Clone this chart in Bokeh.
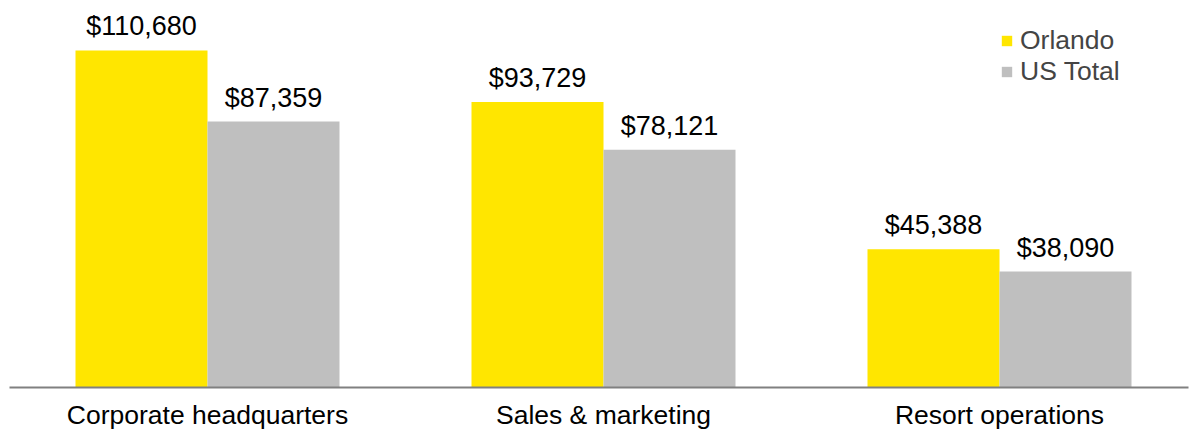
import numpy as np
from bokeh.plotting import figure
from bokeh.models import ColumnDataSource, Range1d, FixedTicker, Legend, LegendItem
from bokeh.core.properties import value
from bokeh.embed import file_html
from bokeh.resources import INLINE

categories = ["Corporate headquarters", "Sales & marketing", "Resort operations"]
orlando = [110680, 93729, 45388]
us_total = [87359, 78121, 38090]
series_names = ["Orlando", "US Total"]

FONT = "Liberation Sans"
YELLOW = "#FFE600"
GRAY = "#BFBFBF"

xc = np.arange(len(categories)) + 0.5
src = ColumnDataSource(dict(
    x_o=xc - 1/6, x_u=xc + 1/6,
    orlando=orlando, us=us_total,
    lab_o=["${:,}".format(v) for v in orlando],
    lab_u=["${:,}".format(v) for v in us_total],
))

p = figure(width=1189, height=433, output_backend="svg", toolbar_location=None,
           x_range=Range1d(0, 1179/396), y_range=Range1d(0, 127100),
           y_axis_location=None, min_border_left=9, min_border_right=1,
           min_border_top=0, min_border_bottom=46)
p.outline_line_color = None
p.xgrid.visible = False
p.ygrid.visible = False

r1 = p.vbar(x="x_o", top="orlando", width=1/3, bottom=0, source=src,
            fill_color=YELLOW, line_color=None)
r2 = p.vbar(x="x_u", top="us", width=1/3, bottom=0, source=src,
            fill_color=GRAY, line_color=None)

for xcol, ycol, tcol in [("x_o", "orlando", "lab_o"), ("x_u", "us", "lab_u")]:
    p.text(x=xcol, y=ycol, text=tcol, source=src, text_align="center",
           text_baseline="alphabetic", y_offset=-24,
           text_font=value(FONT), text_font_size="27px", text_color="black")

ax = p.xaxis[0]
ax.ticker = FixedTicker(ticks=list(xc))
ax.major_label_overrides = {float(x): c for x, c in zip(xc, categories)}
ax.major_tick_line_color = None
ax.minor_tick_line_color = None
ax.major_tick_out = 0
ax.major_tick_in = 0
ax.minor_tick_out = 0
ax.axis_line_color = "#808080"
ax.axis_line_width = 2
ax.major_label_standoff = 12
ax.major_label_text_font = FONT
ax.major_label_text_font_size = "26.5px"
ax.major_label_text_color = "black"

legend = Legend(items=[LegendItem(label=series_names[0], renderers=[r1]),
                       LegendItem(label=series_names[1], renderers=[r2])],
                location=(991, 300), padding=0, margin=0, spacing=0,
                border_line_color=None, background_fill_alpha=0,
                glyph_width=13, glyph_height=13, label_standoff=7,
                label_text_font=FONT, label_text_font_size="26.5px",
                label_height=29)
p.add_layout(legend)

open("out.html", "w").write(file_html(p, INLINE))
